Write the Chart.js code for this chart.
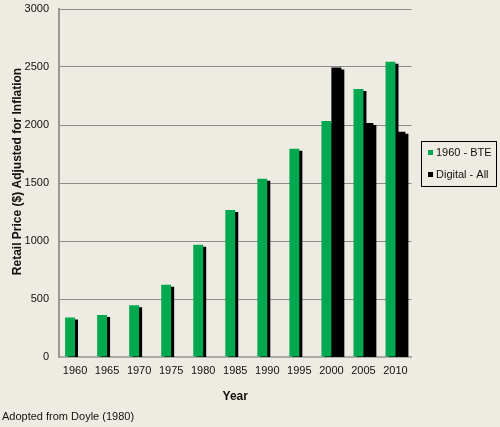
<!DOCTYPE html>
<html>
<head>
<meta charset="utf-8">
<script src="https://cdn.jsdelivr.net/npm/chart.js@4/dist/chart.umd.min.js"></script>
<style>
html,body{margin:0;padding:0;background:#EEEBE2;}
#wrap{width:500px;height:427px;position:relative;}
</style>
</head>
<body>
<div id="wrap"><canvas id="c" width="500" height="427"></canvas></div>
<script>
const years = ['1960','1965','1970','1975','1980','1985','1990','1995','2000','2005','2010'];
const bte = [340, 362, 446, 622, 967, 1267, 1537, 1796, 2035, 2310, 2545];
const digital = [null, null, null, null, null, null, null, null, 2496, 2017, 1942];
const seriesNames = ['1960 - BTE', 'Digital - All'];
const seriesColors = ['#00A84F', '#000000'];
const yTicks = [0, 500, 1000, 1500, 2000, 2500, 3000];
const yTitle = 'Retail Price ($) Adjusted for Inflation';
const xTitle = 'Year';
const note = 'Adopted from Doyle (1980)';

const FONT = "'Liberation Sans', Arial, sans-serif";

const bgPlugin = {
  id: 'bg',
  beforeDraw(chart) {
    const ctx = chart.ctx;
    ctx.save();
    ctx.fillStyle = '#EEEBE2';
    ctx.fillRect(0, 0, chart.width, chart.height);
    ctx.restore();
  }
};

const shadowPlugin = {
  id: 'barShadow',
  beforeDatasetsDraw(chart) {
    const ctx = chart.ctx;
    ctx.save();
    ctx.shadowColor = '#000000';
    ctx.shadowOffsetX = 3;
    ctx.shadowOffsetY = 2;
    ctx.shadowBlur = 0;
  },
  afterDatasetsDraw(chart) {
    chart.ctx.restore();
  }
};

const extrasPlugin = {
  id: 'extras',
  afterDraw(chart) {
    const ctx = chart.ctx;
    // y axis title
    ctx.save();
    ctx.translate(18, 171.5);
    ctx.rotate(-Math.PI / 2);
    ctx.font = 'bold 12px ' + FONT;
    ctx.fillStyle = '#111';
    ctx.textAlign = 'center';
    ctx.textBaseline = 'middle';
    ctx.fillText(yTitle, 0, 0);
    ctx.restore();
    // legend
    const bx = 421.5, by = 141.5, bw = 75, bh = 45;
    ctx.save();
    ctx.strokeStyle = '#000';
    ctx.lineWidth = 1;
    ctx.strokeRect(bx, by, bw, bh);
    ctx.font = '11px ' + FONT;
    ctx.textBaseline = 'middle';
    ctx.textAlign = 'left';
    chart.data.datasets.forEach((ds, i) => {
      const cy = 152.5 + i * 22;
      ctx.fillStyle = ds.backgroundColor;
      ctx.fillRect(428, cy - 2.5, 5, 5);
      ctx.fillStyle = '#111';
      ctx.fillText(ds.label, 436, cy + 0.5);
    });
    ctx.restore();
  }
};

new Chart(document.getElementById('c'), {
  type: 'bar',
  data: {
    labels: years,
    datasets: [
      { label: seriesNames[0], data: bte, backgroundColor: seriesColors[0], borderWidth: 0 },
      { label: seriesNames[1], data: digital, backgroundColor: seriesColors[1], borderWidth: 0 }
    ]
  },
  options: {
    responsive: false,
    animation: false,
    devicePixelRatio: 1,
    layout: { padding: { left: 2, right: 88.5, top: 9, bottom: 0 } },
    datasets: { bar: { categoryPercentage: 0.62, barPercentage: 1 } },
    plugins: {
      legend: { display: false },
      tooltip: { enabled: false },
      subtitle: {
        display: true,
        text: note,
        position: 'bottom',
        align: 'start',
        color: '#111',
        font: { family: FONT, size: 11, weight: 'normal' },
        padding: { top: 0, bottom: 3 }
      }
    },
    scales: {
      x: {
        grid: { display: false, drawTicks: false },
        border: { display: true, color: '#ABABAB', width: 2 },
        ticks: { color: '#111', font: { family: FONT, size: 11 }, padding: 7, maxRotation: 0 },
        title: { display: true, text: xTitle, color: '#111', font: { family: FONT, size: 12, weight: 'bold' }, padding: { top: 0, bottom: 7 } },
        afterFit(scale) { scale.height = 53.8; scale.paddingTop = 0; scale.paddingBottom = 0; }
      },
      y: {
        min: 0,
        max: 3000,
        afterBuildTicks(scale) { scale.ticks = yTicks.map(v => ({ value: v })); },
        grid: { color: '#8C8C8C', lineWidth: 1, drawTicks: false },
        border: { display: true, color: '#999999', width: 2 },
        ticks: { color: '#111', font: { family: FONT, size: 11 }, padding: 10, callback: (v) => String(v) },
        afterFit(scale) { scale.width = 57; scale.paddingTop = 0; scale.paddingBottom = 0; }
      }
    }
  },
  plugins: [bgPlugin, shadowPlugin, extrasPlugin]
});
</script>
</body>
</html>
